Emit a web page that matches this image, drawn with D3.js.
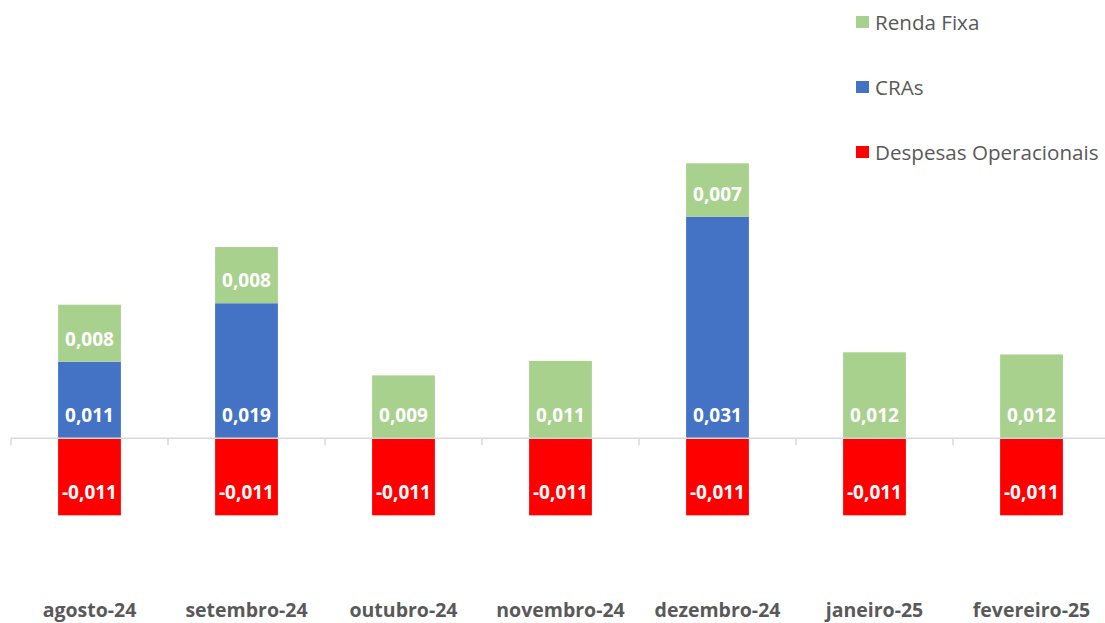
<!DOCTYPE html>
<html>
<head>
<meta charset="utf-8">
<script src="https://cdn.jsdelivr.net/npm/d3@7"></script>
<style>
  body { margin: 0; background: #fff; }
  svg { display: block; font-family: "Open Sans", sans-serif; }
</style>
</head>
<body>
<div id="root"></div>
<script>
// values
var categories = ["agosto-24", "setembro-24", "outubro-24", "novembro-24", "dezembro-24", "janeiro-25", "fevereiro-25"];
var rendaFixa = [0.0079, 0.0078, 0.0087, 0.0107, 0.0074, 0.0119, 0.0116];
var cras = [0.0106, 0.0187, 0, 0, 0.0307, 0, 0];
var despesas = [-0.0107, -0.0107, -0.0107, -0.0107, -0.0107, -0.0107, -0.0107];

var seriesNames = ["CRAs", "Renda Fixa", "Despesas Operacionais"];
var legendNames = ["Renda Fixa", "CRAs", "Despesas Operacionais"];
var colors = { "Renda Fixa": "#A9D18E", "CRAs": "#4472C4", "Despesas Operacionais": "#FF0000" };

var width = 1105, height = 623;

var rows = categories.map(function (c, i) {
  return { cat: c, "CRAs": cras[i], "Renda Fixa": rendaFixa[i], "Despesas Operacionais": despesas[i] };
});

var stacked = d3.stack()
  .keys(seriesNames)
  .offset(d3.stackOffsetDiverging)(rows);

var svg = d3.select("#root")
  .append("svg")
  .attr("width", width)
  .attr("height", height);

var x = d3.scaleBand()
  .domain(categories)
  .range([11, 1110])
  .paddingInner(0.6)
  .paddingOuter(0.3);

var y = d3.scaleLinear()
  .domain([-0.02, 0.04])
  .range([582.4, 149.6]);

var br = d3.formatLocale({ decimal: ",", thousands: ".", grouping: [3], currency: ["R$", ""], minus: "-" });
var fmt = br.format(".3f");

// bars
var groups = svg.selectAll("g.serie")
  .data(stacked)
  .join("g")
  .attr("class", "serie")
  .attr("fill", function (d) { return colors[d.key]; });

groups.selectAll("rect")
  .data(function (d) { return d.map(function (p, i) { return { key: d.key, p: p, i: i }; }); })
  .join("rect")
  .filter(function (d) { return d.p[1] - d.p[0] !== 0; })
  .attr("x", function (d) { return x(categories[d.i]); })
  .attr("width", x.bandwidth())
  .attr("y", function (d) { return y(Math.max(d.p[0], d.p[1])); })
  .attr("height", function (d) { return Math.abs(y(d.p[0]) - y(d.p[1])); });

// axis line with category ticks
var step = x.step();
var axisG = svg.append("g");
axisG.append("line")
  .attr("x1", 11).attr("x2", width)
  .attr("y1", y(0)).attr("y2", y(0))
  .attr("stroke", "#D9D9D9").attr("stroke-width", 1.5);
axisG.selectAll("line.tick")
  .data(d3.range(categories.length + 1))
  .join("line")
  .attr("class", "tick")
  .attr("x1", function (i) { return 11 + i * step; })
  .attr("x2", function (i) { return 11 + i * step; })
  .attr("y1", y(0)).attr("y2", y(0) + 7)
  .attr("stroke", "#D9D9D9").attr("stroke-width", 1.5);

// data labels
stacked.forEach(function (s) {
  svg.append("g").selectAll("text")
    .data(s.map(function (p, i) { return { p: p, i: i, v: rows[i][s.key] }; }).filter(function (d) { return d.v !== 0; }))
    .join("text")
    .attr("x", function (d) { return x(categories[d.i]) + x.bandwidth() / 2; })
    .attr("y", function (d) { return y(Math.min(d.p[0], d.p[1])) - 23; })
    .attr("text-anchor", "middle")
    .attr("dominant-baseline", "central")
    .attr("fill", "#fff")
    .attr("font-weight", "bold")
    .attr("font-size", "19px")
    .text(function (d) { return fmt(d.v); });
});

// category labels
svg.append("g").selectAll("text")
  .data(categories)
  .join("text")
  .attr("x", function (d) { return x(d) + x.bandwidth() / 2; })
  .attr("y", 617)
  .attr("text-anchor", "middle")
  .attr("fill", "#595959")
  .attr("font-weight", "bold")
  .attr("font-size", "19.5px")
  .text(function (d) { return d; });

// legend
var legend = svg.append("g").selectAll("g")
  .data(legendNames)
  .join("g")
  .attr("transform", function (d, i) { return "translate(856," + (22 + i * 65) + ")"; });
legend.append("rect")
  .attr("x", 0).attr("y", -6)
  .attr("width", 13).attr("height", 12)
  .attr("fill", function (d) { return colors[d]; });
legend.append("text")
  .attr("x", 19)
  .attr("dominant-baseline", "central")
  .attr("fill", "#595959")
  .attr("font-size", "20.6px")
  .text(function (d) { return d; });
</script>
</body>
</html>
